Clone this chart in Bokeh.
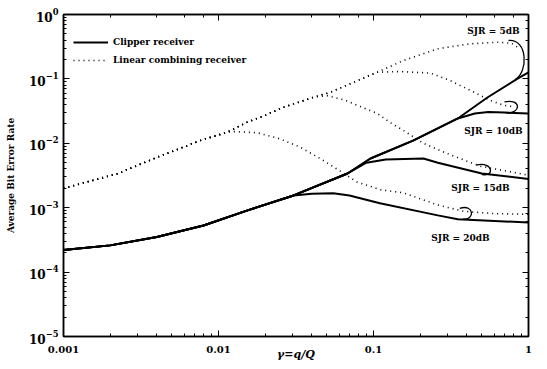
from bokeh.plotting import figure
from bokeh.models import LogAxis, Legend, LegendItem, Label, Range1d, LogTicker
from bokeh.embed import file_html
from bokeh.resources import INLINE

# ---------------- data ----------------
# shared lower envelope of the clipper-receiver curves
gamma_clip_env = [0.001, 0.002, 0.004, 0.008, 0.0154, 0.0305]
ber_clip_env = [2.2e-4, 2.6e-4, 3.5e-4, 5.3e-4, 9.1e-4, 1.55e-3]

gamma_clip_5 = [0.068, 0.0956, 0.18, 0.35, 0.54, 0.85, 1.0]
ber_clip_5 = [3.4e-3, 5.8e-3, 1.1e-2, 2.43e-2, 5.1e-2, 1.01e-1, 1.26e-1]

gamma_clip_10 = [0.068, 0.0956, 0.18, 0.35, 0.45, 0.55, 0.7, 1.0]
ber_clip_10 = [3.4e-3, 5.8e-3, 1.1e-2, 2.43e-2, 2.9e-2, 3.05e-2, 3.0e-2, 2.9e-2]

gamma_clip_15 = [0.068, 0.09, 0.12, 0.21, 0.26, 0.5, 1.0]
ber_clip_15 = [3.4e-3, 5.0e-3, 5.6e-3, 5.8e-3, 5.0e-3, 3.4e-3, 2.8e-3]

gamma_clip_20 = [0.04, 0.055, 0.07, 0.11, 0.26, 0.35, 1.0]
ber_clip_20 = [1.65e-3, 1.68e-3, 1.55e-3, 1.17e-3, 7.6e-4, 6.6e-4, 5.9e-4]

# shared lower envelope of the linear-combining-receiver curves
gamma_lin_env = [0.001, 0.00222, 0.00403, 0.00765]
ber_lin_env = [2.0e-3, 3.36e-3, 6.08e-3, 1.105e-2]

gamma_lin_up = [0.01138, 0.01531, 0.01866, 0.02637, 0.0412]
ber_lin_up = [1.487e-2, 2.13e-2, 2.54e-2, 3.64e-2, 5.2e-2]

gamma_lin_5 = [0.0528, 0.1057, 0.156, 0.259, 0.423, 0.631, 0.776, 0.85]
ber_lin_5 = [6.21e-2, 0.127, 0.193, 0.293, 0.351, 0.371, 0.358, 0.31]

gamma_lin_10 = [0.0528, 0.1057, 0.15, 0.233, 0.313, 0.423, 0.57, 0.69, 0.8]
ber_lin_10 = [6.21e-2, 0.127, 0.13, 0.123, 0.094, 0.066, 0.046, 0.039, 0.037]

gamma_lin_15 = [0.05, 0.065, 0.085, 0.106, 0.128, 0.156, 0.21, 0.30, 0.49, 1.0]
ber_lin_15 = [5.5e-2, 4.7e-2, 3.6e-2, 2.9e-2, 2.1e-2, 1.58e-2, 1.0e-2, 6.9e-3, 4.4e-3, 3.2e-3]

gamma_lin_20 = [0.01138, 0.0126, 0.0178, 0.025, 0.0337, 0.0453, 0.058, 0.0785, 0.111, 0.156, 0.26, 0.38, 0.6, 1.0]
ber_lin_20 = [1.487e-2, 1.52e-2, 1.46e-2, 1.17e-2, 8.7e-3, 5.8e-3, 4.0e-3, 2.5e-3, 1.9e-3, 1.7e-3, 1.1e-3, 8.8e-4, 8.1e-4, 7.9e-4]

x_ticks = [0.001, 0.01, 0.1, 1]
x_tick_labels = ["0.001", "0.01", "0.1", "1"]

sjr_labels = ["SJR = 5dB", "SJR = 10dB", "SJR = 15dB", "SJR = 20dB"]
sjr_label_x = [0.594, 0.594, 0.49, 0.364]
sjr_label_y = [0.545, 0.0158, 0.0020, 3.44e-4]

# callout hooks linking each label's dotted and solid curves
hooks_x0 = [0.743, 0.70, 0.46, 0.36]
hooks_y0 = [0.395, 0.044, 4.6e-3, 9.8e-4]
hooks_cx0 = [0.995, 0.90, 0.60, 0.45]
hooks_cy0 = [0.42, 0.050, 5.3e-3, 1.15e-3]
hooks_cx1 = [0.995, 0.90, 0.60, 0.45]
hooks_cy1 = [0.126, 0.029, 2.9e-3, 6.3e-4]
hooks_x1 = [0.82, 0.72, 0.50, 0.38]
hooks_y1 = [0.098, 0.0295, 3.3e-3, 6.7e-4]

x_label = "\u03b3=q/Q"
y_label = "Average Bit Error Rate"

# ---------------- figure ----------------
SERIF = "DejaVu Serif"

p = figure(width=547, height=369, x_axis_type="log", y_axis_type="log",
           x_range=Range1d(0.001, 1), y_range=Range1d(1e-5, 1),
           output_backend="svg", toolbar_location=None,
           min_border_left=63, min_border_right=19, min_border_top=14, min_border_bottom=33)
p.background_fill_color = "white"
p.border_fill_color = "white"
p.grid.visible = False
p.outline_line_color = "black"
p.outline_line_width = 1.5

for ax in (p.xaxis[0], p.yaxis[0]):
    ax.axis_line_width = 1.5
    ax.major_tick_in = 6
    ax.major_tick_out = 0
    ax.minor_tick_in = 3
    ax.minor_tick_out = 0
    ax.major_label_text_font = SERIF
    ax.major_label_text_font_style = "bold"
    ax.major_label_text_color = "black"
    ax.axis_label_text_color = "black"
    ax.axis_label_text_font = SERIF

xa = p.xaxis[0]
xa.major_label_overrides = {t: s for t, s in zip(x_ticks, x_tick_labels)}
xa.major_label_text_font_size = "10px"
xa.major_label_standoff = 9
xa.axis_label = x_label
xa.axis_label_text_font_style = "bold italic"
xa.axis_label_text_font_size = "11px"
xa.axis_label_standoff = -8

ya = p.yaxis[0]
ya.major_label_text_font_size = "12px"
ya.major_label_standoff = 5
ya.axis_label = y_label
ya.axis_label_text_font_style = "bold"
ya.axis_label_text_font_size = "9px"
ya.axis_label_standoff = 10

for loc in ("right", "above"):
    ax = LogAxis(ticker=LogTicker(), axis_line_width=1.5, major_tick_in=6, major_tick_out=0,
                 minor_tick_in=3, minor_tick_out=0, major_label_text_font_size="6px",
                 major_label_text_color=None, major_label_standoff=0)
    p.add_layout(ax, loc)

def cat(a, b):
    return list(a) + list(b)

solid_kw = dict(line_color="black", line_width=2.0)
dot_kw = dict(line_color="black", line_width=1.6, line_dash="1 4")

r_clip = p.line(cat(gamma_clip_env, gamma_clip_5), cat(ber_clip_env, ber_clip_5), **solid_kw)
p.line(cat(gamma_clip_env, gamma_clip_10), cat(ber_clip_env, ber_clip_10), **solid_kw)
p.line(cat(gamma_clip_env, gamma_clip_15), cat(ber_clip_env, ber_clip_15), **solid_kw)
p.line(cat(gamma_clip_env, gamma_clip_20), cat(ber_clip_env, ber_clip_20), **solid_kw)

r_lin = p.line(cat(gamma_lin_env, gamma_lin_up) + gamma_lin_5, cat(ber_lin_env, ber_lin_up) + ber_lin_5, **dot_kw)
p.line(cat(gamma_lin_env, gamma_lin_up) + gamma_lin_10, cat(ber_lin_env, ber_lin_up) + ber_lin_10, **dot_kw)
p.line(cat(gamma_lin_env, gamma_lin_up) + gamma_lin_15, cat(ber_lin_env, ber_lin_up) + ber_lin_15, **dot_kw)
p.line(cat(gamma_lin_env, gamma_lin_20), cat(ber_lin_env, ber_lin_20), **dot_kw)

p.bezier(x0=hooks_x0, y0=hooks_y0, x1=hooks_x1, y1=hooks_y1,
         cx0=hooks_cx0, cy0=hooks_cy0, cx1=hooks_cx1, cy1=hooks_cy1,
         line_color="black", line_width=1.3)

for t, lx, ly in zip(sjr_labels, sjr_label_x, sjr_label_y):
    p.add_layout(Label(x=lx, y=ly, text=t, text_align="center", text_baseline="middle",
                       text_font=SERIF, text_font_style="bold", text_font_size="9px",
                       text_color="black"))

legend = Legend(items=[LegendItem(label="Clipper receiver", renderers=[r_clip]),
                       LegendItem(label="Linear combining receiver", renderers=[r_lin])],
                location=(0, 259), margin=0, padding=10, spacing=4,
                glyph_width=35, glyph_height=14, label_height=14, label_standoff=5,
                border_line_alpha=0, background_fill_alpha=0,
                label_text_font=SERIF, label_text_font_style="bold", label_text_font_size="9px",
                label_text_color="black")
p.add_layout(legend)

open("out.html", "w").write(file_html(p, INLINE))
